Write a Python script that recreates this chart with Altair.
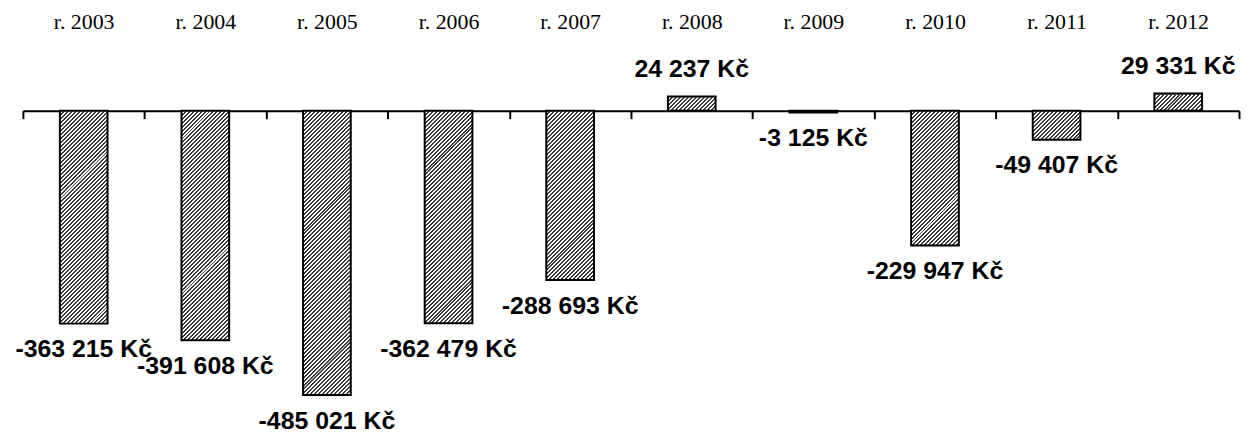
import altair as alt
import pandas as pd

years = ["r. 2003", "r. 2004", "r. 2005", "r. 2006", "r. 2007",
         "r. 2008", "r. 2009", "r. 2010", "r. 2011", "r. 2012"]
values = [-363215, -391608, -485021, -362479, -288693,
          24237, -3125, -229947, -49407, 29331]
labels = [f"{v:,}".replace(",", " ") + " Kč" for v in values]

df = pd.DataFrame({"year": years, "value": values, "label": labels})

W, H = 1224, 384
PPU = 0.00059          # pixels per Kč
ZERO_PX = 61           # zero line, px below the plot top
Y_MAX = ZERO_PX / PPU
Y_MIN = Y_MAX - H / PPU
BAR_W = 48
SEG = 16               # hatch tile height in px (multiple of the stripe period)


def hatch(h, w=BAR_W, period=4.0, dark=2.0, c1="#3a3a3a", c2="#ffffff"):
    h = max(h, 0.5)
    k = (1 / h + 1 / w) / (1 / h ** 2 + 1 / w ** 2)
    total = w + h
    stops = []
    pos = 0.0
    while pos < total:
        a = pos / total
        b = min((pos + dark) / total, 1.0)
        c = min((pos + period) / total, 1.0)
        stops += [alt.GradientStop(offset=a, color=c1),
                  alt.GradientStop(offset=b, color=c1),
                  alt.GradientStop(offset=b, color=c2),
                  alt.GradientStop(offset=c, color=c2)]
        pos += period
    return alt.LinearGradient(gradient="linear", x1=0, y1=0,
                              x2=k / h, y2=k / w, stops=stops)


# split each bar into hatch tiles (derived from the values above)
full_rows, rem_rows = [], []
for yr, v in zip(years, values):
    sgn = -1 if v < 0 else 1
    h_px = abs(v) * PPU
    n_full = int(h_px // SEG)
    for j in range(n_full):
        full_rows.append({"year": yr, "y0": sgn * j * SEG / PPU,
                          "y1": sgn * (j + 1) * SEG / PPU})
    r = h_px - n_full * SEG
    if r > 0.01:
        rem_rows.append({"year": yr, "y0": sgn * n_full * SEG / PPU, "y1": v, "h": r})
full_df = pd.DataFrame(full_rows)
rem_df = pd.DataFrame(rem_rows)

xscale = alt.Scale(paddingInner=0, paddingOuter=0)
yscale = alt.Scale(domain=[Y_MIN, Y_MAX], nice=False, zero=False)

x_axis = alt.Axis(orient="bottom", offset=-(H - ZERO_PX), title=None, grid=False,
                  domainColor="black", domainWidth=2,
                  tickColor="black", tickWidth=2, tickSize=8, tickBand="extent",
                  labelPadding=-(8 + ZERO_PX + 21.3), labelBaseline="alphabetic",
                  labelFont="Liberation Serif", labelFontSize=22, labelColor="black",
                  labelAngle=0)

X = alt.X("year:N", sort=years, scale=xscale, axis=x_axis)
Y = alt.Y("value:Q", scale=yscale, axis=None)

base = alt.Chart(df)

layers = []
layers.append(base.mark_bar(width=BAR_W, fill="#9a9a9a", strokeWidth=0).encode(x=X, y=Y))
layers.append(alt.Chart(full_df).mark_bar(width=BAR_W, fill=hatch(SEG), strokeWidth=0).encode(
    x=X, y=alt.Y("y0:Q", scale=yscale, axis=None), y2="y1:Q"))
for row in rem_rows:
    layers.append(alt.Chart(rem_df).transform_filter(alt.datum.year == row["year"]).mark_bar(
        width=BAR_W, fill=hatch(row["h"]), strokeWidth=0).encode(
        x=X, y=alt.Y("y0:Q", scale=yscale, axis=None), y2="y1:Q"))

outline = base.mark_bar(width=BAR_W, fill="white", fillOpacity=0,
                        stroke="black", strokeWidth=2).encode(x=X, y=Y)

text_kw = dict(font="Liberation Sans", fontWeight="bold", fontSize=25,
               color="black", baseline="middle", align="center")

neg_text = base.transform_filter(alt.datum.value < 0).mark_text(dy=26, **text_kw).encode(
    x=X, y=Y, text="label:N")
pos_text = base.transform_filter(alt.datum.value >= 0).mark_text(dy=-28, **text_kw).encode(
    x=X, y=Y, text="label:N")

chart = alt.layer(*layers, outline, neg_text, pos_text).properties(
    width=W, height=H,
    autosize=alt.AutoSizeParams(type="none"),
    padding={"left": 15, "top": 41, "right": 2, "bottom": 0},
    background="white",
).configure_view(stroke=None)

chart.save("out.html", embed_options={"renderer": "svg", "actions": False})
